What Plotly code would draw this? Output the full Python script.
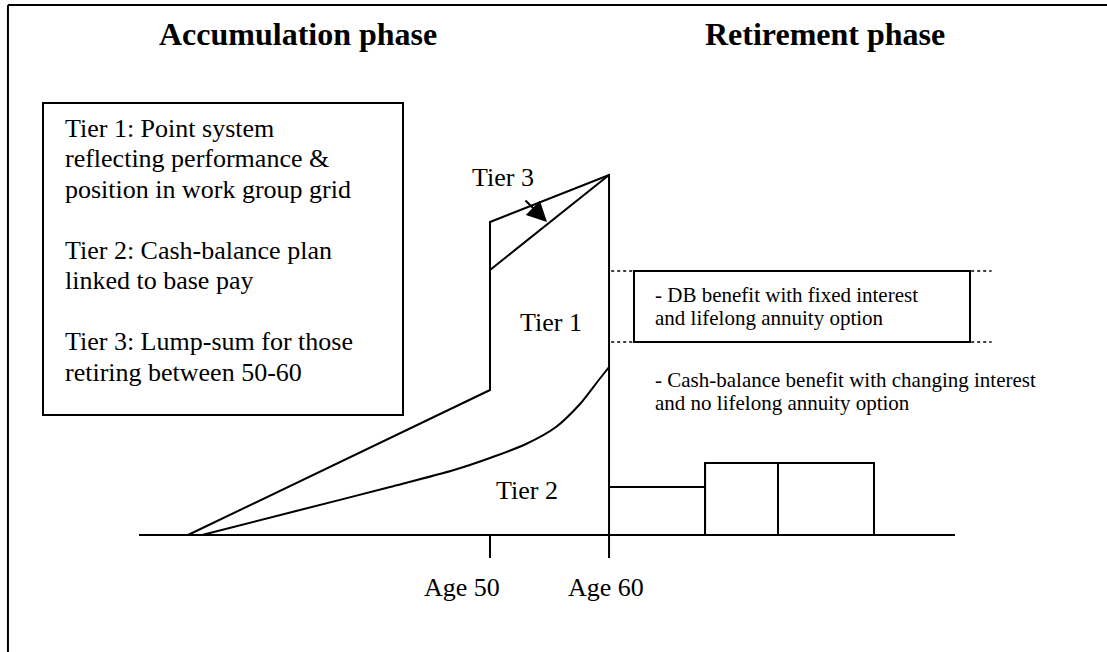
import plotly.graph_objects as go

# ---- data (x in years of age, y in benefit units above the age axis) ----
axis_ages = [20.75, 88.75]
axis_level = [0, 0]

# Tier 1 + Tier 3 outline (accumulation)
outline_ages = [24.83, 50.0, 50.0, 59.92, 59.92]
outline_vals = [0, 145, 313, 360, 0]

# Tier 3 / Tier 1 boundary
tier3_ages = [50.0, 59.92]
tier3_vals = [265, 360]

# Tier 2 cash-balance growth curve
tier2_ages = [26.0, 34.17, 41.67, 47.0, 50.0, 53.0, 55.5, 57.5, 59.0, 59.92]
tier2_vals = [0, 25, 48, 65, 77, 91, 108, 131, 154, 168]

# age ticks
tick_ages = [50, 59.92]
tick_labels = ["Age 50", "Age 60"]
tick_depth = -23

# retirement phase payouts (step boxes)
pay_edges = [59.92, 67.92, 74.0, 82.0]
pay_levels = [48, 72, 72]

# DB benefit band
db_band = [193, 264]
db_box_ages = [62.0, 90.0]
db_dotted_ages = [60.1, 91.8]

# texts
phase_titles = ["Accumulation phase", "Retirement phase"]
legend_lines = ["Tier 1: Point system", "reflecting performance &", "position in work group grid",
                "Tier 2: Cash-balance plan", "linked to base pay",
                "Tier 3: Lump-sum for those", "retiring between 50-60"]
legend_line_vals = [407, 376.5, 346, 285, 254.5, 193.5, 163]
db_text = ["- DB benefit with fixed interest", "and lifelong annuity option"]
cb_text = ["- Cash-balance benefit with changing interest", "and no lifelong annuity option"]
tier_labels = ["Tier 3", "Tier 1", "Tier 2"]
tier_label_pos = [(51.08, 358), (55.08, 213), (53.08, 45)]

FONT = "Liberation Serif, Times New Roman, serif"
LW = 2

fig = go.Figure()

def line(xs, ys, dash=None, width=LW, shape="linear"):
    fig.add_trace(go.Scatter(x=xs, y=ys, mode="lines", hoverinfo="skip",
                             line=dict(color="black", width=width, dash=dash, shape=shape,
                                       smoothing=0.8 if shape == "spline" else None)))

# axis
line(axis_ages, axis_level, width=2.2)
# outline
line(outline_ages, outline_vals)
line(tier3_ages, tier3_vals)
line(tier2_ages, tier2_vals, shape="spline")
for a in tick_ages:
    line([a, a], [0, tick_depth])

# dotted DB band guides
for v in db_band:
    line(db_dotted_ages, [v, v], dash="dot", width=1.5)

# payout steps
line([pay_edges[0], pay_edges[1]], [pay_levels[0], pay_levels[0]])
for i in range(1, 3):
    line([pay_edges[i], pay_edges[i], pay_edges[i + 1], pay_edges[i + 1]],
         [0, pay_levels[i], pay_levels[i], 0])
line([pay_edges[1], pay_edges[1]], [0, pay_levels[1]])

shapes = []
# DB box
shapes.append(dict(type="rect", xref="x", yref="y", x0=db_box_ages[0], x1=db_box_ages[1],
                   y0=db_band[0], y1=db_band[1], line=dict(color="black", width=LW),
                   fillcolor="white", layer="above"))
# legend box
shapes.append(dict(type="rect", xref="x", yref="y", x0=12.75, x1=42.75, y0=120, y1=432,
                   line=dict(color="black", width=LW)))
# outer frame
shapes.append(dict(type="line", xref="x", yref="y", x0=9.83, x1=9.83, y0=530, y1=-117,
                   line=dict(color="black", width=2)))
shapes.append(dict(type="line", xref="x", yref="y", x0=9.83, x1=101.5, y0=530, y1=530,
                   line=dict(color="black", width=2)))

ann = []
for t, xa in zip(phase_titles, [34.04, 77.875]):
    ann.append(dict(x=xa, y=501, text="<b>%s</b>" % t, showarrow=False, xanchor="center",
                    yanchor="middle", font=dict(family=FONT, size=32, color="black")))
for t, v in zip(legend_lines, legend_line_vals):
    ann.append(dict(x=14.42, y=v, text=t, showarrow=False, xanchor="left", yanchor="middle",
                    font=dict(family=FONT, size=26, color="black")))
for t, v in zip(db_text, [240, 217]):
    ann.append(dict(x=63.58, y=v, text=t, showarrow=False, xanchor="left", yanchor="middle",
                    font=dict(family=FONT, size=21, color="black")))
for t, v in zip(cb_text, [155, 132]):
    ann.append(dict(x=63.58, y=v, text=t, showarrow=False, xanchor="left", yanchor="middle",
                    font=dict(family=FONT, size=21, color="black")))
for t, (xa, ya) in zip(tier_labels, tier_label_pos):
    ann.append(dict(x=xa, y=ya, text=t, showarrow=False, xanchor="center", yanchor="middle",
                    font=dict(family=FONT, size=26, color="black")))
for t, xa in zip(tick_labels, [47.67, 59.625]):
    ann.append(dict(x=xa, y=-52, text=t, showarrow=False, xanchor="center", yanchor="middle",
                    font=dict(family=FONT, size=26, color="black")))
# arrow to Tier 3
ann.append(dict(x=54.75, y=313, ax=52.83, ay=336, xref="x", yref="y", axref="x", ayref="y",
                text="", showarrow=True, arrowhead=2, arrowsize=2, arrowwidth=2,
                arrowcolor="black"))

fig.update_layout(
    width=1107, height=652, margin=dict(l=0, r=0, t=0, b=0),
    paper_bgcolor="white", plot_bgcolor="white", showlegend=False,
    xaxis=dict(range=[9.1667, 101.4167], visible=False, fixedrange=True),
    yaxis=dict(range=[-117, 535], visible=False, fixedrange=True),
    shapes=shapes, annotations=ann,
)
fig.write_html("out.html", config={"displayModeBar": False},
               post_script="document.body.style.margin='0px';document.body.style.overflow='hidden';")
